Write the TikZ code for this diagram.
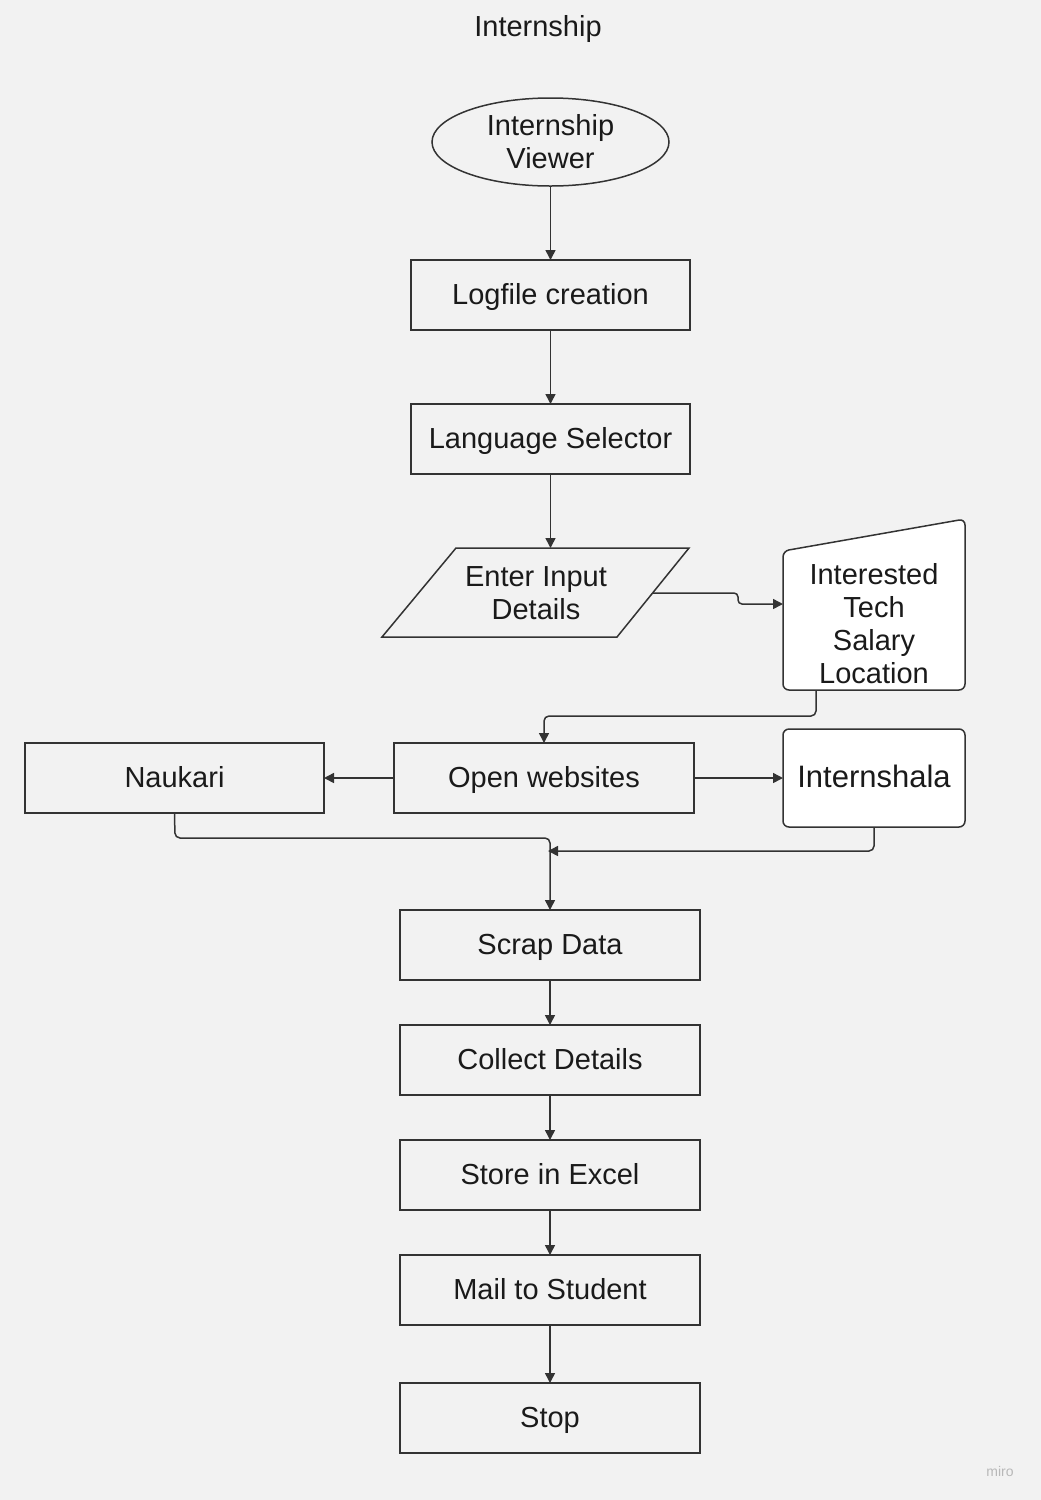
\documentclass[tikz,border=0pt]{standalone}
\usepackage{fontspec}
\setmainfont{Liberation Sans}
\usetikzlibrary{arrows.meta,shapes.geometric}
\definecolor{bg}{HTML}{F2F2F2}
\definecolor{ln}{HTML}{333333}
\definecolor{tx}{HTML}{1A1A1A}
\begin{document}
\begin{tikzpicture}[x=1pt,y=-1pt,
  every node/.style={font=\fontsize{29}{33}\selectfont, text=tx, align=center, inner sep=0pt, outer sep=0pt},
  one/.style={text height=18pt, text depth=0pt},
  box/.style={draw=ln, line width=1.5pt, fill=bg, minimum height=70pt, one},
  wbox/.style={draw=ln, line width=1.5pt, fill=white, rounded corners=6pt},
  conn/.style={draw=ln, line width=1.5pt, rounded corners=5pt, -{Triangle[length=10pt,width=10pt]}}]
\useasboundingbox[fill=bg] (0,0) rectangle (1041,1500);
\node[one] (title) at (538,27) {Internship};
\node[draw=ln, line width=1.5pt, fill=bg, ellipse, minimum width=237pt, minimum height=88pt] (viewer) at (550.5,142) {Internship\\Viewer};
\node[box, minimum width=279pt] (log) at (550.5,295) {Logfile creation};
\node[box, minimum width=279pt] (lang) at (550.5,439) {Language Selector};
% parallelogram
\draw[draw=ln, line width=1.5pt, fill=bg] (456,548) -- (689,548) -- (617,637) -- (382,637) -- cycle;
\node[minimum width=200pt, minimum height=89pt] (inp) at (536,593) {Enter Input\\Details};
\coordinate (inpT) at (550.5,548);
\coordinate (inpR) at (653,593);
% manual input shape
\draw[wbox] (783,551) -- (965,519) -- (965,690) -- (783,690) -- cycle;
\node (interest) at (874,624) {Interested\\Tech\\Salary\\Location};
\coordinate (intL) at (783,604);
\coordinate (intB) at (816,690);
\node[box, minimum width=300pt] (open) at (544,778) {Open websites};
\node[box, minimum width=299pt] (nauk) at (174.5,778) {Naukari};
\node[wbox, one, font=\fontsize{31}{35}\selectfont, minimum width=182pt, minimum height=98pt] (ishala) at (874,778) {Internshala};
\node[box, minimum width=300pt] (scrap) at (550,945) {Scrap Data};
\node[box, minimum width=300pt] (collect) at (550,1060) {Collect Details};
\node[box, minimum width=300pt] (store) at (550,1175) {Store in Excel};
\node[box, minimum width=300pt] (mail) at (550,1290) {Mail to Student};
\node[box, minimum width=300pt] (stop) at (550,1418) {Stop};
\node[font=\fontsize{14}{16}\selectfont, text=black!28] (miro) at (1000,1471) {miro};
% connectors
\draw[conn] (viewer.south) -- (log.north);
\draw[conn] (log.south) -- (lang.north);
\draw[conn] (lang.south) -- (inpT);
\draw[conn, rounded corners=4pt] (inpR) -- (738,593) -- (738,604) -- (intL);
\draw[conn] (intB) -- (816,716) -- (544,716) -- (open.north);
\draw[conn, rounded corners=0pt] (open.west) -- (nauk.east);
\draw[conn, rounded corners=0pt] (open.east) -- (ishala.west);
\draw[conn] (nauk.south) -- (175,838) -- (550,838) -- (scrap.north);
\draw[conn] (ishala.south) -- (874,851) -- (548,851);
\draw[conn] (scrap.south) -- (collect.north);
\draw[conn] (collect.south) -- (store.north);
\draw[conn] (store.south) -- (mail.north);
\draw[conn] (mail.south) -- (stop.north);
\end{tikzpicture}
\end{document}
